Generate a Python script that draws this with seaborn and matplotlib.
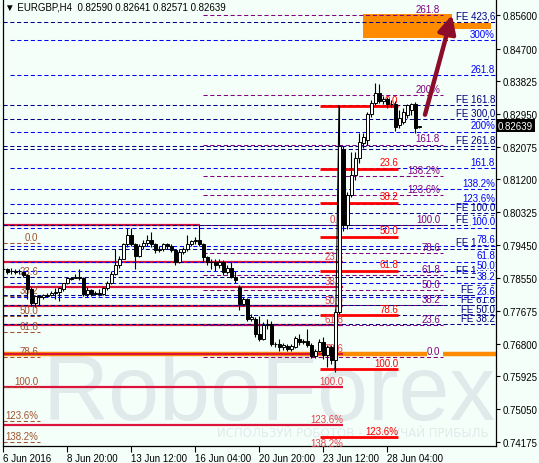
import numpy as np
import pandas as pd
import matplotlib
matplotlib.use('Agg')
import matplotlib.pyplot as plt
import seaborn as sns
from matplotlib.patches import Rectangle
from matplotlib.transforms import blended_transform_factory

sns.set_theme(style='white')
plt.rcParams['font.family'] = ['Liberation Sans', 'DejaVu Sans']

# EURGBP H4 candles (one bar = 4 hours)
opens = [.7879, .7879, .7874, .7876, .7874, .7871, .7863, .7826, .7788, .7807,
         .7804, .7810, .7810, .7815, .7818, .7826, .7842, .7855, .7855, .7860,
         .7855, .7812, .7823, .7812, .7815, .7812, .7828, .7844, .7868, .7890,
         .7908, .7946, .7970, .7946, .7916, .7941, .7951, .7959, .7946, .7930,
         .7935, .7946, .7941, .7930, .7900, .7925, .7933, .7946, .7954, .7957,
         .7946, .7911, .7900, .7900, .7892, .7898, .7871, .7882, .7860, .7831,
         .7786, .7799, .7746, .7746, .7706, .7692, .7730, .7732, .7679, .7679,
         .7671, .7674, .7666, .7671, .7692, .7684, .7687, .7676, .7647, .7660,
         .7684, .7649, .7671, .7636, .7764, .8200, .7999, .8079, .8133, .8178,
         .8216, .8226, .8296, .8325, .8352, .8330, .8336, .8322, .8322, .8266,
         .8274, .8293, .8306, .8322, .82590]
highs = [.7887, .7882, .7882, .7879, .7879, .7874, .7866, .7831, .7810, .7810,
         .7812, .7815, .7820, .7828, .7831, .7844, .7858, .7860, .7866, .7879,
         .7858, .7831, .7826, .7820, .7826, .7831, .7847, .7874, .7933, .7916,
         .7951, .7991, .7991, .7951, .7946, .7959, .7970, .7978, .7951, .7943,
         .7951, .7951, .7946, .7935, .7933, .7938, .7970, .7959, .7965, .7999,
         .7951, .7916, .7908, .7906, .7906, .7903, .7890, .7900, .7874, .7836,
         .7804, .7802, .7759, .7751, .7754, .7738, .7746, .7740, .7684, .7692,
         .7682, .7679, .7679, .7700, .7706, .7692, .7719, .7682, .7666, .7692,
         .7698, .7676, .7676, .7772, .8317, .8208, .8087, .8194, .8194, .8245,
         .8245, .8301, .8333, .8378, .8376, .8344, .8341, .8333, .8330, .8306,
         .8312, .8322, .8325, .8328, .82641]
lows = [.7871, .7868, .7868, .7868, .7866, .7858, .7799, .7780, .7778, .7783,
        .7799, .7804, .7807, .7799, .7794, .7820, .7839, .7850, .7855, .7850,
        .7807, .7804, .7807, .7810, .7807, .7810, .7823, .7839, .7863, .7884,
        .7906, .7938, .7941, .7879, .7911, .7935, .7943, .7938, .7922, .7925,
        .7927, .7933, .7925, .7892, .7895, .7919, .7927, .7941, .7946, .7941,
        .7900, .7892, .7879, .7874, .7884, .7863, .7866, .7855, .7844, .7770,
        .7780, .7740, .7740, .7698, .7687, .7690, .7719, .7674, .7671, .7660,
        .7663, .7660, .7660, .7668, .7676, .7679, .7671, .7641, .7641, .7657,
        .7639, .7617, .7625, .7604, .7759, .7981, .7986, .8074, .8119, .8165,
        .8205, .8213, .8288, .8320, .8325, .8322, .8312, .8314, .8250, .8258,
        .8269, .8285, .8293, .8245, .82571]
closes = [.7879, .7871, .7876, .7871, .7874, .7863, .7826, .7788, .7807, .7804,
          .7810, .7809, .7815, .7818, .7828, .7842, .7855, .7854, .7860, .7855,
          .7812, .7823, .7812, .7815, .7812, .7828, .7844, .7868, .7890, .7908,
          .7946, .7970, .7946, .7916, .7941, .7951, .7959, .7946, .7930, .7935,
          .7946, .7941, .7930, .7900, .7925, .7933, .7946, .7954, .7957, .7946,
          .7911, .7900, .7899, .7892, .7898, .7871, .7882, .7860, .7852, .7786,
          .7799, .7746, .7751, .7706, .7692, .7730, .7732, .7679, .7680, .7671,
          .7676, .7666, .7674, .7695, .7684, .7687, .7676, .7647, .7660, .7684,
          .7649, .7671, .7636, .7764, .8208, .7999, .8079, .8133, .8178, .8221,
          .8234, .8296, .8325, .8352, .8330, .8336, .8322, .8321, .8261, .8285,
          .8301, .8320, .8322, .8258, .82639]

date_ticks = [0, 16, 32, 48, 64, 80, 96]
date_labels = ['6 Jun 2016', '8 Jun 20:00', '13 Jun 12:00', '16 Jun 04:00',
               '20 Jun 20:00', '23 Jun 12:00', '28 Jun 04:00']
price_ticks = [0.85600, 0.84700, 0.83825, 0.82950, 0.82075, 0.81200, 0.80325,
               0.79450, 0.78550, 0.77675, 0.76800, 0.75925, 0.75050, 0.74175]
last_price = 0.82639

# fibo expansion levels (navy, full width)
fe_prices = [.8541, .8320, .8282, .8210, .8202, .8031, .7997, .7935, .7860, .7810, .7783, .7756, .7732]
fe_labels = ['FE 423,6', 'FE 161.8', 'FE 300,0', 'FE 261.8', '', 'FE 100.0', 'FE 100.0',
             'FE 161.8', 'FE 100.0', 'FE 23.6', 'FE 61.8', 'FE 50.0', 'FE 38.2']
# blue fibo (full width)
blue_prices = [.8493, .8400, .8248, .8151, .8093, .8055, .7991, .7943, .7900, .7874, .7844, .7804]
blue_labels = ['300%', '261.8', '200%', '161.8', '138.2%', '123.6%', '100.0',
               '78.6', '61.8', '50.0', '38.2', '23.6']
# purple fibo
purple_prices = [.8560, .8346, .8213, .8130, .8077, .7997, .7922, .7863, .7823, .7783, .7730, .7644]
purple_labels = ['261.8', '200%', '161.8', '138.2%', '123.6%', '100.0',
                 '78.6', '61.8', '50.0', '38.2', '23.6', '0.0']
# short red retracement of the referendum spike
red_prices = [.8317, .8149, .8058, .7967, .7876, .7756, .7612, .7431]
red_labels = ['0.0', '23.6', '38.2', '50.0', '61.8', '78.6', '100.0', '123.6%']
# long crimson retracement
crim_prices = [.7997, .7898, .7831, .7780, .7730, .7652, .7564, .7463, .7399]
crim_labels = ['0.0', '23.6', '38.2', '50.0', '61.8', '78.6', '100.0', '123.6%', '138.2%']
# left (sienna) retracement
left_prices = [.7949, .7858, .7807, .7754, .7711, .7644, .7564, .7473, .7417]
left_labels = ['0.0', '23.6', '38.2', '50.0', '61.8', '78.6', '100.0', '123.6%', '138.2%']
orange_level = 0.7652

df = pd.DataFrame({'open': opens, 'high': highs, 'low': lows, 'close': closes})
df['bar'] = np.arange(len(df))
df['up'] = df['close'] >= df['open']

bg = '#F5FFFA'
fig = plt.figure(figsize=(5.39, 4.64), dpi=100, facecolor=bg)
ax = fig.add_axes([2.5 / 539, 17 / 464, 493.5 / 539, 446 / 464])
ax.set_facecolor(bg)
X0, X1 = -0.125, 123.25
ax.set_xlim(X0, X1)
ax.set_ylim(0.74065, 0.8600)

dash = (0, (4, 2.5))
fs = 7

# watermark
ax.text(10, 0.7479, 'RoboForex', fontsize=66, color='#e1eaeb', ha='left', va='baseline', zorder=0)
ax.text(121.5, 0.7433, 'ИСПОЛЬЗУЙ РОБОТОВ - ПОЛУЧАЙ ПРИБЫЛЬ', fontsize=8.5,
        color='#e1eaeb', ha='right', va='baseline', zorder=0, family='DejaVu Sans')

# orange target zone
ax.add_patch(Rectangle((90, 0.8499), 22.25, 0.0064, color='#FF8C00', lw=0, zorder=1))
ax.add_patch(Rectangle((90, 0.8523), 32, 0.0016, color='#FF8C00', lw=0, zorder=1))
ax.hlines(orange_level, X0, 106, color='#FF8C00', lw=3.2, zorder=1)
ax.hlines(orange_level, 110, X1, color='#FF8C00', lw=3.2, zorder=1)

# long crimson retracement
for k, (p, t) in enumerate(zip(crim_prices, crim_labels)):
    xe = 49.25 if k == 0 else 85
    ax.hlines(p, X0, xe, color='#DC143C', lw=1.6, zorder=2)
    ax.text(85, p + 0.0003, t, color='#E0404A', fontsize=fs, ha='right', va='bottom', zorder=3)

# left sienna retracement
for p, t in zip(left_prices, left_labels):
    ax.hlines(p, X0, 9.25, color='#A0522D', lw=0.75, linestyle=dash, zorder=2)
    ax.text(8.75, p + 0.0003, t, color='#A0522D', fontsize=fs, ha='right', va='bottom', zorder=3)

# purple fibo
for p, t in zip(purple_prices, purple_labels):
    ax.hlines(p, 50, 110, color='#800080', lw=0.75, linestyle=dash, zorder=2)
    ax.text(109.25, p + 0.0003, t, color='#800080', fontsize=fs, ha='right', va='bottom', zorder=3)

# navy expansion
for p, t in zip(fe_prices, fe_labels):
    ax.hlines(p, X0, X1, color='#000080', lw=0.75, linestyle=dash, zorder=2)
    ax.text(123, p + 0.0003, t, color='#000080', fontsize=fs, ha='right', va='bottom', zorder=3)

# blue fibo
for p, t in zip(blue_prices, blue_labels):
    ax.hlines(p, 1.75, X1, color='#0000FF', lw=0.75, linestyle=dash, zorder=2)
    ax.text(123, p + 0.0003, t, color='#0000FF', fontsize=fs, ha='right', va='bottom', zorder=3.5,
            bbox=dict(facecolor=bg, edgecolor='none', pad=0.2))

# short red retracement
for p, t in zip(red_prices, red_labels):
    ax.hlines(p, 79.25, 98.75, color='#FF0000', lw=2, zorder=2.5)
    ax.text(98.75, p + 0.0003, t, color='#FF0000', fontsize=fs, ha='right', va='bottom', zorder=3)
ax.plot([84, 83], [red_prices[0], red_prices[6]], color='black', lw=0.8, zorder=4)

# candles
ax.vlines(df['bar'], df['low'], df['high'], color='black', lw=0.8, zorder=5)
body = (df['close'] - df['open']).abs().clip(lower=0.00005)
bottom = df[['open', 'close']].min(axis=1)
ax.bar(df['bar'], body, bottom=bottom, width=0.75,
       color=np.where(df['up'], 'white', 'black'), edgecolor='black', linewidth=0.7, zorder=6)

# arrow
ax.annotate('', xy=(112.25, 0.8560), xytext=(105.5, 0.8293),
            arrowprops=dict(arrowstyle='-|>,head_length=0.9,head_width=0.45', lw=3.2,
                            color='#8B0D2A', shrinkA=0, shrinkB=0, mutation_scale=12),
            zorder=8)

# axes
for s in ['left', 'right', 'bottom']:
    ax.spines[s].set_visible(True)
    ax.spines[s].set_color('black')
    ax.spines[s].set_linewidth(0.9)
ax.spines['top'].set_visible(False)
ax.yaxis.tick_right()
ax.set_yticks(price_ticks)
ax.set_yticklabels([f'{v:.5f}' for v in price_ticks])
ax.set_xticks(date_ticks)
ax.set_xticklabels(date_labels, ha='left')
ax.tick_params(axis='y', right=True, left=False, length=3, width=0.8, color='black',
               labelsize=7, labelcolor='black', pad=1.5)
ax.tick_params(axis='x', bottom=True, length=4, width=0.8, color='black',
               labelsize=7, labelcolor='black', pad=1)
ax.grid(False)

tr = blended_transform_factory(ax.transAxes, ax.transData)
ax.text(1.004, last_price, f'{last_price:.5f}', transform=tr, color='white', fontsize=7,
        ha='left', va='center', zorder=10, clip_on=False,
        bbox=dict(facecolor='black', edgecolor='none', pad=1.3))

fig.text(5 / 539, 1 - 8 / 464, '▼ EURGBP,H4  0.82590 0.82641 0.82571 0.82639',
         fontsize=7, color='black', ha='left', va='center')

plt.savefig('out.png', dpi=100, facecolor=bg)
